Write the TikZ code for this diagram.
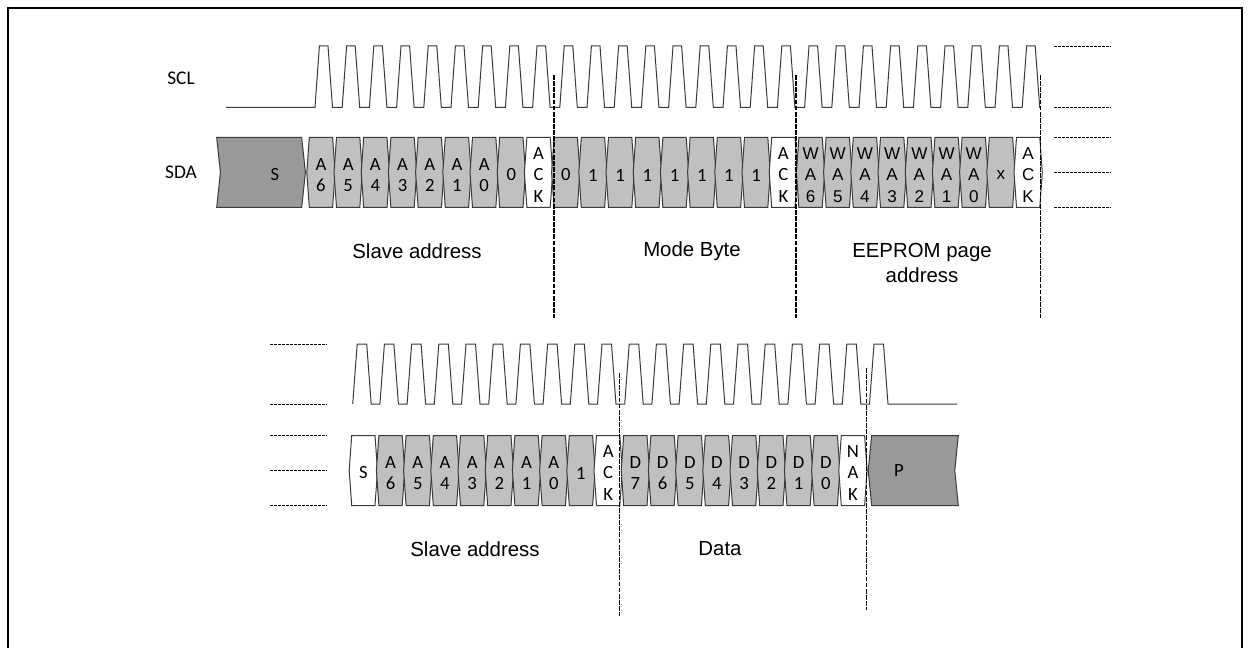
\documentclass[tikz,border=0pt]{standalone}
\usepackage{fontspec}
\setmainfont{Liberation Sans}
\newfontfamily\calfont{Carlito}
\newfontfamily\arifont{Liberation Sans}
\definecolor{cellgray}{HTML}{C0C0C0}
\definecolor{darkcell}{HTML}{999999}
\definecolor{edgecol}{HTML}{3A3A3A}
\tikzset{
  cellline/.style={draw=edgecol, line width=0.75pt, line join=miter},
  celltext/.style={inner sep=0pt, align=center, font=\calfont\fontsize{14}{16.3}\selectfont},
  ariceltext/.style={inner sep=0pt, align=center, font=\arifont\fontsize{12.8}{16.3}\selectfont},
  sigline/.style={draw=edgecol, line width=0.75pt, line join=miter},
  vdash/.style={draw=black, line width=1pt, dash pattern=on 3.6pt off 1pt},
  hdash/.style={draw=black, line width=0.7pt, dash pattern=on 2.2pt off 0.8pt},
  lbl/.style={inner sep=0pt, align=center, font=\arifont\fontsize{15.3}{18.5}\selectfont},
  siglbl/.style={inner sep=0pt, font=\calfont\fontsize{14.5}{16}\selectfont},
}
% cell: name, left x, top y, fill, style, text
\newcommand\bitcell[6]{%
  \draw[cellline, fill=#4] (#2,#3) -- ++(23.3,0) -- ++(2.5,35) -- ++(-2.5,35) -- ++(-23.3,0) -- ++(-2.5,-35) -- cycle;
  \node[#5] (#1) at ({#2+11.65},{#3+37.5}) {#6};
}
\begin{document}
\begin{tikzpicture}[x=0.75pt, y=-0.75pt]
\useasboundingbox (0,0) rectangle (1251,648);
% frame
\draw[line width=1.4pt] (8,648) -- (8,8) -- (1242,8) -- (1242,648);

% ---------------- top row ----------------
\node[siglbl] (scl) at (181,78) {SCL};
\node[siglbl] (sda) at (181,172) {SDA};

\draw[sigline] (226,107.3)
  \foreach \k in {0,...,26} {
    -- ({315+27.2*\k},107.3) -- ({319.4+27.2*\k},46) -- ({328+27.2*\k},46) -- ({332.5+27.2*\k},107.3)
  } -- (1040,107.3);

% start cell
\draw[cellline, fill=darkcell] (216.7,137.5) -- (301.7,137.5) -- (305.4,172.5) -- (301.7,207.5) -- (216.7,207.5) -- (220.4,172.5) -- cycle;
\node[celltext] (start) at (275,175) {S};

\foreach \k/\f/\s/\t in {
  0/cellgray/celltext/A\\6, 1/cellgray/celltext/A\\5, 2/cellgray/celltext/A\\4,
  3/cellgray/celltext/A\\3, 4/cellgray/celltext/A\\2, 5/cellgray/celltext/A\\1,
  6/cellgray/celltext/A\\0, 7/cellgray/celltext/0, 8/white/celltext/A\\C\\K,
  9/cellgray/celltext/0, 10/cellgray/celltext/1, 11/cellgray/celltext/1,
  12/cellgray/celltext/1, 13/cellgray/celltext/1, 14/cellgray/celltext/1,
  15/cellgray/celltext/1, 16/cellgray/celltext/1, 17/white/celltext/A\\C\\K,
  18/cellgray/ariceltext/W\\A\\6, 19/cellgray/ariceltext/W\\A\\5,
  20/cellgray/ariceltext/W\\A\\4, 21/cellgray/ariceltext/W\\A\\3,
  22/cellgray/ariceltext/W\\A\\2, 23/cellgray/ariceltext/W\\A\\1,
  24/cellgray/ariceltext/W\\A\\0, 25/cellgray/ariceltext/x,
  26/white/ariceltext/A\\C\\K} {
  \bitcell{t\k}{309.3+27.2*\k}{137.5}{\f}{\s}{\t}
}

% boundaries
\coordinate (b1t) at (554,75);   \coordinate (b1b) at (554,318);
\coordinate (b2t) at (796,75);   \coordinate (b2b) at (796,318);
\coordinate (b3t) at (1040.7,75); \coordinate (b3b) at (1040.7,318);
\draw[vdash] (b1t) -- (b1b);
\draw[vdash] (b2t) -- (b2b);
\draw[vdash] (b3t) -- (b3b);

% continuation dashes right
\foreach \y in {46,107.3,137.5,172.5,207.5} {
  \draw[hdash] (1054,\y) -- (1110.7,\y);
}

\node[lbl] (slv1) at (417,251) {Slave address};
\node[lbl] (mode) at (692,251) {Mode Byte};
\node[lbl] (eep) at (922,263) {EEPROM page\\address};

% ---------------- bottom row ----------------
\foreach \y in {344,404,435.5,470.5,505.5} {
  \draw[hdash] (270,\y) -- (326.7,\y);
}

\draw[sigline] (352.7,404)
  \foreach \k in {0,...,19} {
    -- ({357.2+27.2*\k},344) -- ({366.7+27.2*\k},344) -- ({371.2+27.2*\k},404) -- ({379.9+27.2*\k},404)
  } -- (957.3,404);

\foreach \k/\f/\t in {
  0/white/S, 1/cellgray/A\\6, 2/cellgray/A\\5, 3/cellgray/A\\4, 4/cellgray/A\\3,
  5/cellgray/A\\2, 6/cellgray/A\\1, 7/cellgray/A\\0, 8/cellgray/1, 9/white/A\\C\\K,
  10/cellgray/D\\7, 11/cellgray/D\\6, 12/cellgray/D\\5, 13/cellgray/D\\4,
  14/cellgray/D\\3, 15/cellgray/D\\2, 16/cellgray/D\\1, 17/cellgray/D\\0,
  18/white/N\\A\\K} {
  \bitcell{b\k}{351.7+27.2*\k}{435.5}{\f}{celltext}{\t}
}

% stop cell
\draw[cellline, fill=darkcell] (871.7,435.5) -- (958.3,435.5) -- (954.8,470.5) -- (958.3,505.5) -- (871.7,505.5) -- (868.2,470.5) -- cycle;
\node[celltext] (stop) at (899,471) {P};

\coordinate (b4t) at (619.3,373);  \coordinate (b4b) at (619.3,615.7);
\coordinate (b5t) at (866.7,368);  \coordinate (b5b) at (866.7,609.5);
\draw[vdash] (b4t) -- (b4b);
\draw[vdash] (b5t) -- (b5b);

\node[lbl] (slv2) at (475,549) {Slave address};
\node[lbl] (data) at (720,549) {Data};
\end{tikzpicture}
\end{document}
